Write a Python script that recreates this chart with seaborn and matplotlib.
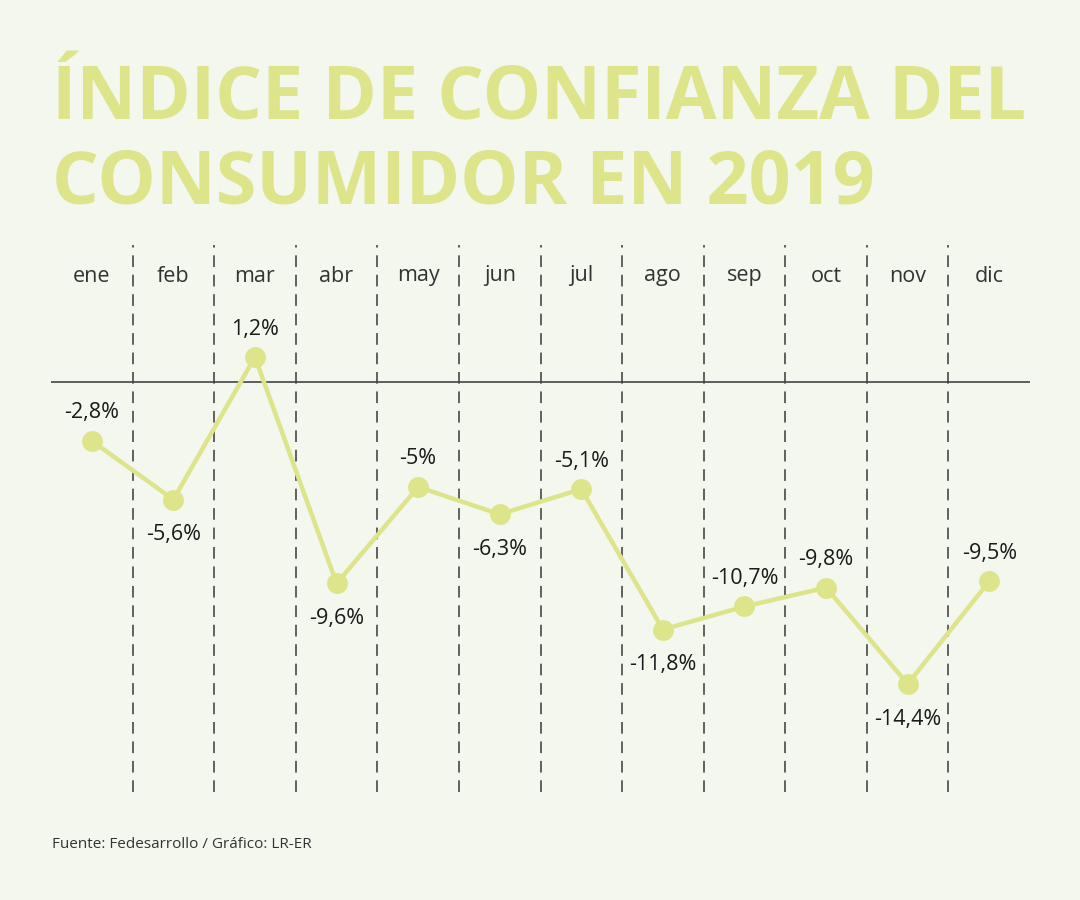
import matplotlib
matplotlib.use("Agg")
import matplotlib.pyplot as plt
import seaborn as sns
import pandas as pd
import matplotlib.transforms as mtransforms

months = ["ene", "feb", "mar", "abr", "may", "jun", "jul", "ago", "sep", "oct", "nov", "dic"]
values = [-2.8, -5.6, 1.2, -9.6, -5.0, -6.3, -5.1, -11.8, -10.7, -9.8, -14.4, -9.5]
labels = ["-2,8%", "-5,6%", "1,2%", "-9,6%", "-5%", "-6,3%", "-5,1%", "-11,8%", "-10,7%", "-9,8%", "-14,4%", "-9,5%"]
label_above = [True, False, True, False, True, False, True, False, True, True, False, True]

title_lines = ["ÍNDICE DE CONFIANZA DEL", "CONSUMIDOR EN 2019"]
source = "Fuente: Fedesarrollo / Gráfico: LR-ER"

BG = "#f3f7ed"
GREEN = "#dde48a"

sns.set_theme(style="white")
plt.rcParams["font.family"] = ["Open Sans", "DejaVu Sans"]

df = pd.DataFrame({"x": range(len(months)), "value": values})

W, H = 1080, 900
fig = plt.figure(figsize=(10.8, 9), dpi=100, facecolor=BG)
ax_left, ax_right = 51, 1030
ax_top, ax_bottom = 245, 792
ax = fig.add_axes([ax_left / W, 1 - ax_bottom / H, (ax_right - ax_left) / W, (ax_bottom - ax_top) / H])
ax.set_facecolor(BG)

ppu = 20.96
y0 = 382.2
ax.set_ylim((y0 - ax_bottom) / ppu, (y0 - ax_top) / ppu)
ax.set_xlim(-0.5, len(months) - 0.5)

for i in range(len(months) - 1):
    ax.axvline(i + 0.5, color="#606060", lw=1.4, ls=(0, (6, 4)), zorder=1)
ax.axhline(0, color="#444444", lw=1.2, zorder=1)

sns.lineplot(data=df, x="x", y="value", ax=ax, color=GREEN, lw=3.2,
             marker="o", markersize=15, markeredgewidth=0, markerfacecolor=GREEN,
             zorder=3, legend=False)

for i, (v, lab, up) in enumerate(zip(values, labels, label_above)):
    off = 28 if up else -35
    ax.annotate(lab, (i, v), xytext=(0, off), textcoords="offset pixels",
                ha="center", va="center", fontsize=15.5, color="#1a1a1a", zorder=4)

trans = mtransforms.blended_transform_factory(ax.transData, fig.transFigure)
for i, m in enumerate(months):
    ax.text(i, 1 - 276 / H, m, transform=trans, ha="center", va="center",
            fontsize=15.5, color="#333333")

ax.set_xticks([])
ax.set_yticks([])
ax.set_xlabel("")
ax.set_ylabel("")
for s in ax.spines.values():
    s.set_visible(False)

fig.text(52 / W, 1 - 120 / H, title_lines[0], ha="left", va="baseline",
         fontsize=53, fontweight="bold", color=GREEN)
fig.text(52 / W, 1 - 203 / H, title_lines[1], ha="left", va="baseline",
         fontsize=53, fontweight="bold", color=GREEN)

fig.text(52 / W, 1 - 845 / H, source, ha="left", va="center", fontsize=11, color="#333333")

fig.savefig("out.png", dpi=100, facecolor=BG)
